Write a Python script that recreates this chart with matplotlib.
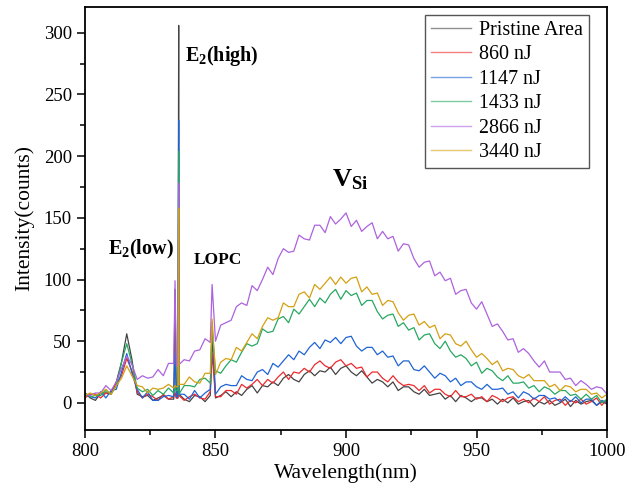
import numpy as np
import matplotlib
matplotlib.use("Agg")
from matplotlib import pyplot as plt
from matplotlib.ticker import MultipleLocator

plt.rcParams["font.family"] = "Liberation Serif"
plt.rcParams["mathtext.default"] = "regular"

# wavelength grid (nm), 2 nm steps; intensities
wl = np.arange(800, 1001, 2)

pristine = [8, 4, 2, 8, 8, 8, 17, 33, 56, 35,
            7, 5, 6, 2, 4, 6, 3, 3, 7, 3,
            1, 6, 5, 1, 6, 4, 6, 9, 5, 9,
            6, 11, 14, 8, 14, 13, 17, 14, 20, 23,
            19, 17, 23, 26, 22, 26, 25, 29, 23, 28,
            30, 25, 22, 26, 21, 16, 19, 17, 13, 17,
            10, 13, 13, 9, 7, 11, 6, 7, 8, 3,
            6, 1, 6, 4, 1, 4, 4, 1, 3, -1,
            3, 0, 4, -1, 1, 2, -3, 1, -1, 2,
            -2, 0, 3, -3, 2, -1, 1, 2, -2, 1,
            -1]
nj860 = [4, 7, 7, 4, 8, 7, 16, 22, 36, 26,
         9, 4, 7, 5, 2, 7, 3, 5, 6, 2,
         5, 7, 4, 3, 9, 5, 5, 10, 10, 7,
         15, 12, 15, 19, 14, 19, 16, 21, 25, 19,
         25, 24, 28, 25, 31, 34, 30, 28, 33, 35,
         30, 32, 28, 29, 21, 25, 25, 20, 17, 22,
         17, 14, 15, 14, 10, 14, 8, 11, 11, 7,
         5, 10, 5, 5, 7, 3, 5, 1, 6, 4,
         1, 4, 5, 1, 3, 0, 4, 1, 5, -1,
         2, 3, -2, 2, 0, 3, -1, 1, 4, -2,
         3]
nj1147 = [7, 5, 4, 9, 4, 10, 11, 25, 40, 24,
          11, 4, 9, 2, 2, 5, 6, 5, 7, 7,
          3, 10, 4, 8, 11, 7, 13, 15, 14, 14,
          22, 19, 18, 25, 27, 23, 32, 29, 34, 39,
          35, 42, 39, 45, 49, 44, 51, 49, 53, 48,
          53, 54, 46, 42, 45, 45, 39, 42, 37, 38,
          30, 34, 34, 27, 26, 30, 25, 20, 24, 22,
          17, 20, 14, 17, 17, 13, 11, 15, 11, 11,
          12, 7, 9, 4, 9, 7, 3, 6, 6, 3,
          4, 1, 5, 1, 5, 0, 3, 3, -2, 2,
          0]
nj1433 = [8, 5, 6, 6, 10, 7, 14, 33, 48, 32,
          12, 9, 11, 6, 10, 7, 12, 8, 7, 14,
          14, 13, 19, 20, 16, 26, 24, 30, 35, 33,
          41, 48, 46, 48, 60, 57, 58, 68, 70, 65,
          76, 72, 78, 84, 78, 85, 81, 88, 92, 84,
          91, 87, 89, 79, 83, 83, 74, 68, 71, 72,
          62, 65, 59, 61, 51, 55, 56, 48, 44, 50,
          42, 37, 39, 36, 30, 33, 24, 28, 26, 21,
          18, 22, 16, 16, 17, 12, 14, 9, 13, 11,
          7, 10, 10, 6, 7, 3, 7, 3, 6, 0,
          3]
nj2866 = [7, 6, 8, 8, 14, 10, 17, 28, 38, 31,
          19, 22, 20, 21, 27, 22, 32, 32, 31, 35,
          34, 42, 43, 52, 49, 50, 63, 65, 67, 78,
          81, 79, 95, 91, 100, 110, 104, 117, 125, 122,
          123, 136, 133, 132, 144, 144, 138, 151, 145, 149,
          154, 143, 148, 139, 143, 146, 133, 139, 133, 135,
          123, 129, 128, 117, 110, 114, 115, 103, 106, 99,
          101, 88, 91, 92, 81, 76, 82, 72, 62, 64,
          58, 51, 52, 41, 44, 40, 34, 29, 34, 25,
          25, 25, 19, 20, 14, 18, 15, 11, 13, 12,
          7]
nj3440 = [6, 8, 6, 8, 11, 7, 14, 20, 30, 22,
          14, 13, 8, 12, 11, 12, 15, 12, 15, 15,
          21, 17, 16, 24, 24, 23, 33, 36, 35, 45,
          42, 49, 56, 52, 62, 69, 67, 69, 81, 78,
          78, 88, 90, 85, 96, 92, 97, 102, 96, 102,
          97, 101, 102, 90, 94, 88, 89, 79, 83, 82,
          73, 67, 71, 72, 63, 66, 61, 63, 52, 56,
          55, 48, 46, 50, 43, 37, 40, 36, 31, 34,
          26, 28, 27, 22, 20, 23, 18, 18, 18, 13,
          15, 10, 14, 13, 9, 11, 11, 7, 8, 4,
          7]

# narrow Raman lines: small line ~834.5 nm, E2(high) ~835.9 nm, LOPC ~848.7 nm
spike_wl = [834.5, 835.0, 835.6, 835.9, 848.7]
pristine_sp = [92, 4, 4, 306, 55]
nj860_sp = [8, 4, 4, 150, 40]
nj1147_sp = [40, 5, 5, 229, 65]
nj1433_sp = [12, 10, 10, 204, 60]
nj2866_sp = [99, 30, 30, 178, 96]
nj3440_sp = [14, 13, 13, 158, 68]

labels = ["Pristine Area", "860 nJ", "1147 nJ", "1433 nJ", "2866 nJ", "3440 nJ"]
colors = ["#444444", "#ec2b2e", "#1f64d6", "#27a862", "#ad62de", "#d4a012"]

series = [(pristine, pristine_sp), (nj860, nj860_sp), (nj1147, nj1147_sp),
          (nj1433, nj1433_sp), (nj2866, nj2866_sp), (nj3440, nj3440_sp)]

fig = plt.figure(figsize=(6.29, 4.92), dpi=100)
ax = fig.add_axes([0.1351, 0.126, 0.830, 0.860])

for (base, sp), lab, c in zip(series, labels, colors):
    x = np.concatenate([wl, spike_wl])
    y = np.concatenate([base, sp])
    order = np.argsort(x, kind="stable")
    ax.plot(x[order], y[order], color=c, lw=0.9, label=lab)

ax.set_xlim(800, 1000)
ax.set_ylim(-22, 321)
ax.xaxis.set_major_locator(MultipleLocator(50))
ax.xaxis.set_minor_locator(MultipleLocator(25))
ax.yaxis.set_major_locator(MultipleLocator(50))
ax.yaxis.set_minor_locator(MultipleLocator(25))
ax.tick_params(which="major", direction="out", length=6, width=1.1, labelsize=13.5)
ax.tick_params(which="minor", direction="out", length=3.5, width=1.1)
for s in ax.spines.values():
    s.set_linewidth(1.3)

ax.set_xlabel("Wavelength(nm)", fontsize=15.5, labelpad=2)
ax.set_ylabel("Intensity(counts)", fontsize=15.5, labelpad=7)

ax.text(838.3, 281, "E$_2$(high)", fontsize=14.5, fontweight="bold", ha="left", va="center")
ax.text(821.6, 124, "E$_2$(low)", fontsize=14.5, fontweight="bold", ha="center", va="center")
ax.text(850.8, 116, "LOPC", fontsize=12.5, fontweight="bold", ha="center", va="center")
ax.text(894.6, 181, "V$_{Si}$", fontsize=19, fontweight="bold", ha="left", va="center")

leg = ax.legend(loc="upper right", bbox_to_anchor=(0.9655, 0.981), borderaxespad=0,
                fontsize=14.4, labelspacing=0.27, borderpad=0.3, handlelength=2.0,
                handletextpad=0.4, fancybox=False, framealpha=1)
leg.get_frame().set_edgecolor("#555555")
leg.get_frame().set_linewidth(1.0)
for h in leg.get_lines():
    h.set_linewidth(1.0)
    h.set_alpha(0.6)

fig.savefig("out.png", dpi=100)
